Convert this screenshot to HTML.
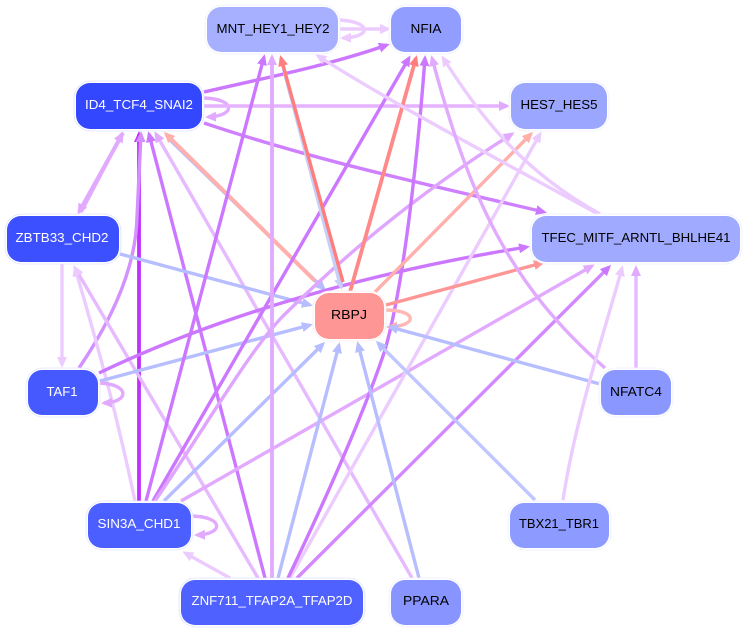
<!DOCTYPE html>
<html>
<head>
<meta charset="utf-8">
<style>
html,body{margin:0;padding:0;background:#fff;width:747px;height:632px;overflow:hidden}
svg{display:block}
text{font-family:"Liberation Sans",sans-serif;font-size:13px;text-anchor:middle;stroke:none}
</style>
</head>
<body>
<svg width="747" height="632" viewBox="0 0 747 632" xmlns="http://www.w3.org/2000/svg">
<defs>
<marker id="a" markerUnits="userSpaceOnUse" markerWidth="14" markerHeight="12" refX="8" refY="6" orient="auto"><polygon points="0,1 11,6 0,11" fill="#cc77ff"/></marker>
<marker id="b" markerUnits="userSpaceOnUse" markerWidth="14" markerHeight="12" refX="8" refY="6" orient="auto"><polygon points="0,1 11,6 0,11" fill="#e2aaff"/></marker>
<marker id="c" markerUnits="userSpaceOnUse" markerWidth="14" markerHeight="12" refX="8" refY="6" orient="auto"><polygon points="0,1 11,6 0,11" fill="#ecccff"/></marker>
<marker id="d" markerUnits="userSpaceOnUse" markerWidth="14" markerHeight="12" refX="8" refY="6" orient="auto"><polygon points="0,1 11,6 0,11" fill="#b6beff"/></marker>
<marker id="e" markerUnits="userSpaceOnUse" markerWidth="14" markerHeight="12" refX="8" refY="6" orient="auto"><polygon points="0,1 11,6 0,11" fill="#ff7d7d"/></marker>
<marker id="f" markerUnits="userSpaceOnUse" markerWidth="14" markerHeight="12" refX="8" refY="6" orient="auto"><polygon points="0,1 11,6 0,11" fill="#ffb0ac"/></marker>
<marker id="g" markerUnits="userSpaceOnUse" markerWidth="14" markerHeight="12" refX="8" refY="6" orient="auto"><polygon points="0,1 11,6 0,11" fill="#c030ff"/></marker>
<marker id="h" markerUnits="userSpaceOnUse" markerWidth="14" markerHeight="12" refX="8" refY="6" orient="auto"><polygon points="0,1 11,6 0,11" fill="#ff9696"/></marker>
<marker id="i" markerUnits="userSpaceOnUse" markerWidth="14" markerHeight="12" refX="8" refY="6" orient="auto"><polygon points="0,1 11,6 0,11" fill="#d590ff"/></marker>
<marker id="j" markerUnits="userSpaceOnUse" markerWidth="14" markerHeight="12" refX="8" refY="6" orient="auto"><polygon points="0,1 11,6 0,11" fill="#c8d0f8"/></marker>
</defs>

<!-- edges -->
<g fill="none" stroke-width="3.4">
<path d="M340,29 L388,29" stroke="#ecccff" marker-end="url(#c)"/>
<path d="M340,20 C372,22 372,37 343,38" stroke="#ecccff" marker-end="url(#c)"/>
<path d="M204,92 C270,77 330,65 387,45" stroke="#cc77ff" marker-end="url(#a)"/>
<path d="M204,98 C236,99 236,116 208,117" stroke="#e2aaff" marker-end="url(#b)"/>
<path d="M204,106 L507,106" stroke="#e6b2ff" marker-end="url(#b)"/>
<path d="M204,123 C320,162 430,185 544,212" stroke="#cf80ff" marker-end="url(#a)"/>
<path d="M123,133 L79,212" stroke="#e2aaff" stroke-width="4" marker-end="url(#b)"/>
<path d="M81,212 L122,134" stroke="#e2aaff" stroke-width="3.6" marker-end="url(#b)"/>
<path d="M139,503 L139,134" stroke="#c030ff" stroke-width="3.8" marker-end="url(#g)"/>
<path d="M79,368 C115,315 136,265 137,217 L141,134" stroke="#d590ff" marker-end="url(#i)"/>
<path d="M265,578 L149,134" stroke="#cc77ff" marker-end="url(#a)"/>
<path d="M412,578 L156,134" stroke="#e6baff" marker-end="url(#b)"/>
<path d="M170,140 L324,289" stroke="#b6beff" marker-end="url(#d)"/>
<path d="M315,281 L166,134" stroke="#ffb0ac" stroke-width="4" marker-end="url(#f)"/>
<path d="M120,254 L310,305" stroke="#b6beff" marker-end="url(#d)"/>
<path d="M62,264 L62,365" stroke="#ecccff" marker-end="url(#c)"/>
<path d="M135,501 C120,430 105,370 75,268" stroke="#ecccff" marker-end="url(#c)"/>
<path d="M258,578 L75,268" stroke="#e6baff" marker-end="url(#c)"/>
<path d="M99,373 C220,315 370,272 527,247" stroke="#cc77ff" marker-end="url(#a)"/>
<path d="M100,381 L310,325" stroke="#b6beff" marker-end="url(#d)"/>
<path d="M99,383 C130,384 130,402 104,403" stroke="#e2aaff" marker-end="url(#b)"/>
<path d="M146,501 L264,57" stroke="#cc77ff" marker-end="url(#a)"/>
<path d="M153,501 L409,58" stroke="#cc77ff" marker-end="url(#a)"/>
<path d="M155,501 C210,420 250,350 283,316 C330,270 400,205 512,134" stroke="#dfa5ff" marker-end="url(#b)"/>
<path d="M164,501 L323,344" stroke="#b6beff" marker-end="url(#d)"/>
<path d="M181,501 L592,266" stroke="#e2aaff" marker-end="url(#b)"/>
<path d="M192,516 C224,517 224,534 197,535" stroke="#e2aaff" marker-end="url(#b)"/>
<path d="M230,578 L185,553" stroke="#ecccff" marker-end="url(#c)"/>
<path d="M272,578 L272,57" stroke="#e2aaff" stroke-width="3.8" marker-end="url(#b)"/>
<path d="M278,578 L339,345" stroke="#b6beff" marker-end="url(#d)"/>
<path d="M290,578 L540,134" stroke="#ecccff" marker-end="url(#c)"/>
<path d="M288,578 C330,490 365,410 385,350 C405,280 418,150 425,58" stroke="#cc77ff" marker-end="url(#a)"/>
<path d="M297,578 L609,267" stroke="#d488ff" marker-end="url(#a)"/>
<path d="M419,578 L358,344" stroke="#b6beff" marker-end="url(#d)"/>
<path d="M281,58 L341,287" stroke="#c8d0f8" stroke-width="4" marker-end="url(#j)"/>
<path d="M343,282 L281,58" stroke="#ff7d7d" marker-end="url(#e)"/>
<path d="M350,292 L416,58" stroke="#ff8888" stroke-width="3.8" marker-end="url(#e)"/>
<path d="M375,292 L531,134" stroke="#ffb0ac" marker-end="url(#f)"/>
<path d="M386,305 L542,263" stroke="#ff9696" marker-end="url(#h)"/>
<path d="M385,310 C418,310 418,326 389,327" stroke="#ffb8b4" marker-end="url(#f)"/>
<path d="M598,214 C500,160 400,108 318,56" stroke="#ecccff" marker-end="url(#c)"/>
<path d="M600,214 C520,170 480,115 443,58" stroke="#ecccff" marker-end="url(#c)"/>
<path d="M605,368 C510,285 470,200 432,58" stroke="#e2aaff" marker-end="url(#b)"/>
<path d="M600,384 L390,327" stroke="#b6beff" marker-end="url(#d)"/>
<path d="M636,368 L636,268" stroke="#e6baff" marker-end="url(#b)"/>
<path d="M563,500 C575,420 605,330 622,268" stroke="#ecccff" marker-end="url(#c)"/>
<path d="M535,500 L378,343" stroke="#c0c6ff" marker-end="url(#d)"/>
</g>

<!-- nodes -->
<g fill="#fff" stroke="#eef0ff" stroke-width="0.8">
<rect x="205" y="5" width="135" height="49" rx="17"/>
<rect x="389" y="5" width="74" height="49" rx="17"/>
<rect x="74" y="81" width="130" height="50" rx="17" stroke="#dde1ff"/>
<rect x="509" y="81" width="100" height="50" rx="17"/>
<rect x="5" y="214" width="116" height="50" rx="17" stroke="#dde1ff"/>
<rect x="530" y="214" width="212" height="50" rx="17"/>
<rect x="313" y="291" width="73" height="50" rx="17" stroke="#ffeaea"/>
<rect x="26" y="368" width="74" height="49" rx="17" stroke="#e4e7ff"/>
<rect x="599" y="368" width="74" height="49" rx="17"/>
<rect x="86" y="501" width="107" height="49" rx="17" stroke="#e4e7ff"/>
<rect x="508" y="501" width="103" height="49" rx="17"/>
<rect x="179" y="578" width="186" height="49" rx="17" stroke="#dde1ff"/>
<rect x="389" y="578" width="74" height="49" rx="17"/>
</g>
<g>
<rect x="207" y="7" width="131" height="45" rx="14" fill="#a6b0ff"/>
<rect x="391" y="7" width="70" height="45" rx="14" fill="#919eff"/>
<rect x="76" y="83" width="126" height="46" rx="14" fill="#3347ff"/>
<rect x="511" y="83" width="96" height="46" rx="14" fill="#9ba6ff"/>
<rect x="7" y="216" width="112" height="46" rx="14" fill="#3d50ff"/>
<rect x="532" y="216" width="208" height="46" rx="14" fill="#a0abff"/>
<rect x="315" y="293" width="69" height="46" rx="14" fill="#ff9696"/>
<rect x="28" y="370" width="70" height="45" rx="14" fill="#4559ff"/>
<rect x="601" y="370" width="70" height="45" rx="14" fill="#8a97ff"/>
<rect x="88" y="503" width="103" height="45" rx="14" fill="#4b5eff"/>
<rect x="510" y="503" width="99" height="45" rx="14" fill="#8d9aff"/>
<rect x="181" y="580" width="182" height="45" rx="14" fill="#4f61ff"/>
<rect x="391" y="580" width="70" height="45" rx="14" fill="#8894ff"/>
</g>

<!-- labels -->
<g fill="#000">
<text x="273" y="33" textLength="113" lengthAdjust="spacingAndGlyphs">MNT_HEY1_HEY2</text>
<text x="426" y="33" textLength="31" lengthAdjust="spacingAndGlyphs">NFIA</text>
<text x="559" y="109" textLength="77" lengthAdjust="spacingAndGlyphs">HES7_HES5</text>
<text x="636" y="242" textLength="189" lengthAdjust="spacingAndGlyphs">TFEC_MITF_ARNTL_BHLHE41</text>
<text x="349" y="319" textLength="36" lengthAdjust="spacingAndGlyphs">RBPJ</text>
<text x="636" y="396" textLength="52" lengthAdjust="spacingAndGlyphs">NFATC4</text>
<text x="559" y="528" textLength="80" lengthAdjust="spacingAndGlyphs">TBX21_TBR1</text>
<text x="426" y="605" textLength="46" lengthAdjust="spacingAndGlyphs">PPARA</text>
</g>
<g fill="#fff">
<text x="139" y="109" textLength="108" lengthAdjust="spacingAndGlyphs">ID4_TCF4_SNAI2</text>
<text x="62" y="242" textLength="93" lengthAdjust="spacingAndGlyphs">ZBTB33_CHD2</text>
<text x="62" y="396" textLength="31" lengthAdjust="spacingAndGlyphs">TAF1</text>
<text x="139" y="528" textLength="83" lengthAdjust="spacingAndGlyphs">SIN3A_CHD1</text>
<text x="272" y="605" textLength="161" lengthAdjust="spacingAndGlyphs">ZNF711_TFAP2A_TFAP2D</text>
</g>
</svg>
</body>
</html>
